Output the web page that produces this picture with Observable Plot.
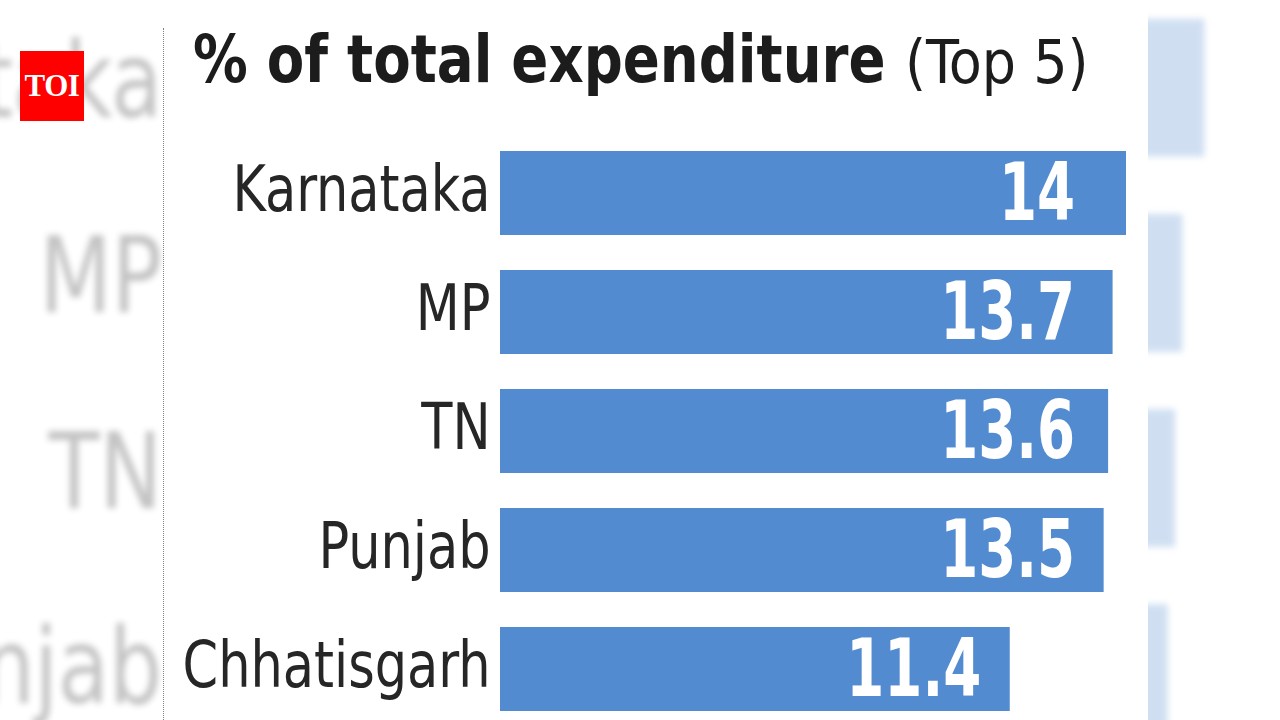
<!DOCTYPE html>
<html>
<head>
<meta charset="utf-8">
<script src="https://cdn.jsdelivr.net/npm/d3@7"></script>
<script src="https://cdn.jsdelivr.net/npm/@observablehq/plot@0.6"></script>
<style>
  html, body { margin: 0; padding: 0; width: 1280px; height: 720px; overflow: hidden; background: #fff; }
  #bg { position: absolute; left: 0; top: 0; transform-origin: 0 0;
        transform: translate(-375px, -32px) scale(1.64); filter: blur(2px); opacity: 0.27; }
  #panel { position: absolute; left: 163px; top: 0; width: 985px; height: 720px; background: #fff; }
  #panel .rule { position: absolute; left: 0; top: 28px; bottom: 0; border-left: 1px dotted #808080; }
  .title { position: absolute; white-space: nowrap; line-height: 1; transform-origin: 0 50%;
           font-family: "DejaVu Sans Condensed", "DejaVu Sans", sans-serif; font-stretch: condensed; color: #1c1c1c; }
  #t1 { left: 30px; top: 27px; font-size: 66px; font-weight: bold; transform: scaleX(0.92); }
  #t2 { left: 742px; top: 32px; font-size: 60px; font-weight: normal; transform: scaleX(1.0); }
  #chart { position: absolute; left: 0; top: 120px; }
  #logo { position: absolute; left: 20px; top: 51px; width: 64px; height: 70px; background: #ff0000;
          color: #fff; font-family: "Liberation Serif", "DejaVu Serif", serif; font-weight: bold; font-size: 31px;
          display: flex; align-items: center; justify-content: center; letter-spacing: -0.5px; }
</style>
</head>
<body>
<div id="bg"></div>
<div id="panel">
  <div class="rule"></div>
  <div class="title" id="t1">% of total expenditure</div>
  <div class="title" id="t2">(Top 5)</div>
  <div id="chart"></div>
</div>
<div id="logo">TOI</div>
<script>
// States ranked by share of total expenditure
const states = ["Karnataka", "MP", "TN", "Punjab", "Chhatisgarh"];
const shares = [14, 13.7, 13.6, 13.5, 11.4];

const rows = states.map((state, i) => ({state, value: shares[i]}));

const barColor = "#528bcf";
const labelFont = '"DejaVu Sans Condensed", "DejaVu Sans", sans-serif';
// value figures line up in one column, except where a bar ends short of it
const figureColumn = 13.5;

const chart = Plot.plot({
  width: 985,
  height: 600,
  marginTop: 31,
  marginBottom: 9,
  marginLeft: 337,
  marginRight: 22,
  style: {fontFamily: labelFont, background: "transparent", overflow: "visible"},
  x: {domain: [0, 14], axis: null},
  y: {domain: states, paddingInner: 0.295, paddingOuter: 0},
  marks: [
    Plot.barX(rows, {x: "value", y: "state", fill: barColor}),
    Plot.text(rows, {
      x: d => Math.min(d.value, figureColumn), y: "state", text: d => String(d.value),
      dx: -29, dy: 1, textAnchor: "end", fill: "white",
      fontWeight: "bold", fontSize: 80, ariaLabel: "value"
    }),
    Plot.axisY({tickSize: 0, tickPadding: 10, fontSize: 64, label: null, fill: "#262626", dy: -3})
  ]
});

document.getElementById("chart").appendChild(chart);

// Narrow the glyphs horizontally, keeping each label's anchor edge in place
function condense(svg, selector, sx) {
  svg.querySelectorAll(selector).forEach(t => {
    const parent = t.parentNode;
    const r = t.getBoundingClientRect();
    const anchor = getComputedStyle(t).textAnchor;
    const sxPos = anchor === "end" ? r.right : anchor === "middle" ? (r.left + r.right) / 2 : r.left;
    const inv = parent.getScreenCTM().inverse();
    const cy = (r.top + r.bottom) / 2;
    const ax = inv.a * sxPos + inv.c * cy + inv.e;
    const g = document.createElementNS("http://www.w3.org/2000/svg", "g");
    g.setAttribute("transform", `translate(${ax} 0) scale(${sx} 1) translate(${-ax} 0)`);
    parent.insertBefore(g, t);
    g.appendChild(t);
  });
}

condense(chart, '[aria-label="y-axis tick label"] text', 0.885);
condense(chart, 'g[fill="white"] text', 0.76);

// Enlarged, softened copy of the chart behind the panel
document.getElementById("bg").appendChild(chart.cloneNode(true));
</script>
</body>
</html>
